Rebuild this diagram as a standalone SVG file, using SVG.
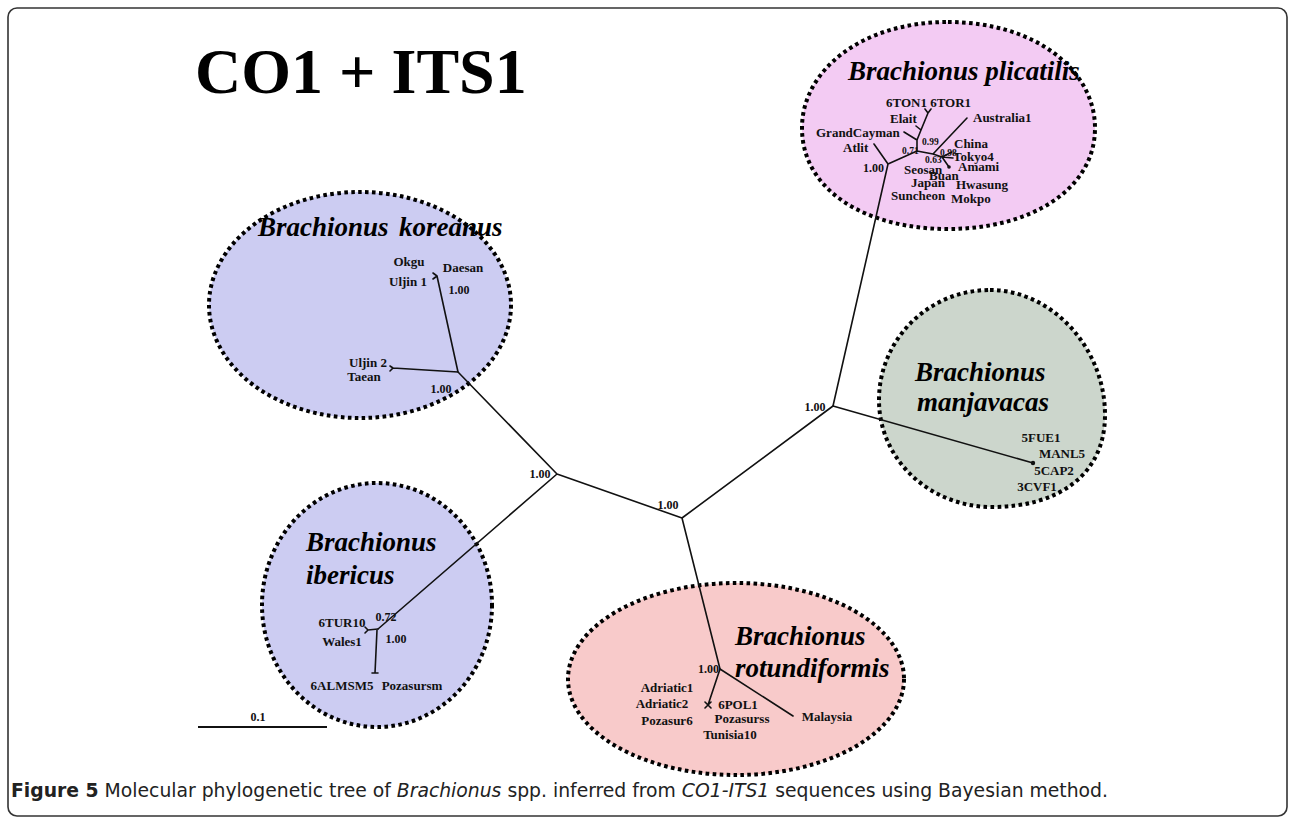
<svg xmlns="http://www.w3.org/2000/svg" width="1290" height="820" viewBox="0 0 1290 820">
<style>
.frame{fill:#fff;stroke:#333;stroke-width:1.6}
.cl{stroke:#000;stroke-width:4;stroke-dasharray:3.6 3.4}
.br{fill:none;stroke:#111;stroke-width:1.6;stroke-linecap:round;stroke-linejoin:round}
.lb{font-family:"Liberation Serif","Times New Roman",serif;font-weight:bold;font-size:13px;fill:#111}
.sm{font-family:"Liberation Serif","Times New Roman",serif;font-weight:bold;font-size:9.5px;fill:#111}
.pp{font-family:"Liberation Serif","Times New Roman",serif;font-weight:bold;font-size:12px;fill:#111}
.sp{font-family:"Liberation Serif","Times New Roman",serif;font-weight:bold;font-style:italic;font-size:27px;fill:#000}
.ttl{font-family:"Liberation Serif","Times New Roman",serif;font-weight:bold;font-size:64px;fill:#000}
.cap{font-family:"Liberation Sans Narrow","DejaVu Sans Condensed","Liberation Sans",sans-serif;font-size:19px;fill:#222}
</style>
<rect class="frame" x="8" y="8" width="1279" height="808" rx="9"/>
<text class="ttl" x="195" y="93">CO1 + ITS1</text>

<g id="plicatilis">
<path class="cl" fill="#f3cbf3" d="M948,22 C1035,22 1095,70 1095,128 C1095,190 1030,229 948,229 C865,229 802,190 802,128 C802,70 862,22 948,22 Z"/>
<text class="sp" x="848" y="80">Brachionus plicatilis</text>
<text class="lb" x="886" y="107">6TON1  6TOR1</text>
<text class="lb" x="890" y="123">Elait</text>
<text class="lb" x="973" y="122">Australia1</text>
<text class="lb" x="816" y="137">GrandCayman</text>
<text class="lb" x="843" y="152">Atlit</text>
<text class="lb" x="954" y="148">China</text>
<text class="lb" x="953" y="161">Tokyo4</text>
<text class="lb" x="958" y="171">Amami</text>
<text class="lb" x="904" y="174">Seosan</text>
<text class="lb" x="929" y="180">Buan</text>
<text class="lb" x="911" y="187">Japan</text>
<text class="lb" x="891" y="200">Suncheon</text>
<text class="lb" x="956" y="189">Hwasung</text>
<text class="lb" x="951" y="203">Mokpo</text>
<text class="sm" x="922" y="145">0.99</text>
<text class="sm" x="902" y="154">0.71</text>
<text class="sm" x="925" y="163">0.63</text>
<text class="sm" x="940" y="156">0.98</text>
<text class="pp" x="863" y="172">1.00</text>
</g>

<g id="koreanus">
<ellipse class="cl" cx="360" cy="305" rx="151" ry="113" fill="#ccccf2"/>
<text class="sp" x="258" y="236">Brachionus<tspan x="399">koreanus</tspan></text>
<text class="lb" x="409" y="266" text-anchor="middle">Okgu</text>
<text class="lb" x="463" y="272" text-anchor="middle">Daesan</text>
<text class="lb" x="408" y="286" text-anchor="middle">Uljin 1</text>
<text class="pp" x="459" y="294" text-anchor="middle">1.00</text>
<text class="lb" x="368" y="367" text-anchor="middle">Uljin 2</text>
<text class="lb" x="364" y="381" text-anchor="middle">Taean</text>
<text class="pp" x="441" y="393" text-anchor="middle">1.00</text>
</g>

<g id="ibericus">
<ellipse class="cl" cx="377" cy="605" rx="115" ry="122" fill="#ccccf2"/>
<text class="sp" x="306" y="551">Brachionus</text>
<text class="sp" x="306" y="584">ibericus</text>
<text class="lb" x="342" y="627" text-anchor="middle">6TUR10</text>
<text class="pp" x="386" y="621" text-anchor="middle">0.72</text>
<text class="lb" x="342" y="646" text-anchor="middle">Wales1</text>
<text class="pp" x="396" y="643" text-anchor="middle">1.00</text>
<text class="lb" x="342" y="690" text-anchor="middle">6ALMSM5</text>
<text class="lb" x="412" y="690" text-anchor="middle">Pozasursm</text>
</g>

<g id="rotundiformis">
<ellipse class="cl" cx="736" cy="679" rx="168" ry="96" fill="#f8caca"/>
<text class="sp" x="735" y="645">Brachionus</text>
<text class="sp" x="735" y="677">rotundiformis</text>
<text class="pp" x="719" y="673" text-anchor="end">1.00</text>
<text class="lb" x="667" y="692" text-anchor="middle">Adriatic1</text>
<text class="lb" x="662" y="708" text-anchor="middle">Adriatic2</text>
<text class="lb" x="667" y="725" text-anchor="middle">Pozasur6</text>
<text class="lb" x="738" y="709" text-anchor="middle">6POL1</text>
<text class="lb" x="742" y="723" text-anchor="middle">Pozasurss</text>
<text class="lb" x="730" y="739" text-anchor="middle">Tunisia10</text>
<text class="lb" x="827" y="721" text-anchor="middle">Malaysia</text>
</g>

<g id="manjavacas">
<path class="cl" fill="#ccd6cc" d="M990,290 C1052,290 1105,348 1105,415 C1105,475 1058,507 992,507 C930,507 879,460 879,400 C879,340 928,290 990,290 Z"/>
<text class="sp" x="915" y="381">Brachionus</text>
<text class="sp" x="917" y="411">manjavacas</text>
<text class="lb" x="1041" y="442" text-anchor="middle">5FUE1</text>
<text class="lb" x="1062" y="458" text-anchor="middle">MANL5</text>
<text class="lb" x="1054" y="475" text-anchor="middle">5CAP2</text>
<text class="lb" x="1037" y="491" text-anchor="middle">3CVF1</text>
</g>

<g id="backbone-labels">
<text class="pp" x="540" y="478" text-anchor="middle">1.00</text>
<text class="pp" x="668" y="509" text-anchor="middle">1.00</text>
<text class="pp" x="815" y="411" text-anchor="middle">1.00</text>
</g>

<g id="connectors">
<path class="br" d="M557,474 L682,518 L833,406 L1033,463 M557,474 L458,372 M557,474 L378,629 M682,518 L720,669"/>
<path class="br" stroke="#2a0a2a" d="M833,406 L888,164 L874,144 M888,164 L917,151 L917,140 L921,130 L928,113 L925,109 M928,113 L931,109 M917,140 L904,132 M921,130 L916,126 M917,151 L933,154 L967,118 M933,154 L942,157 L952,152 M942,157 L953,158 M942,157 L949,167"/>
<path class="br" d="M458,372 L437,276 L433,273 M437,276 L433,279 M458,372 L393,368 L390,366 M393,368 L390,371"/>
<path class="br" d="M378,629 L368,630 L365,627 M368,630 L365,633 M377,630 L375,673 M372,673 L378,673"/>
<path class="br" stroke="#2a0a0a" d="M720,669 L708,705 M705,702 L711,708 M711,702 L705,708 M720,669 L793,716"/>
<circle cx="1033" cy="463" r="2.2" fill="#111"/>
<circle cx="949" cy="167" r="1.8" fill="#111"/>
<path d="M198,727 L327,727" stroke="#111" stroke-width="2.2"/>
</g>
<text class="pp" x="258" y="721" text-anchor="middle">0.1</text>

<text class="cap" x="11" y="797" textLength="1097" lengthAdjust="spacingAndGlyphs"><tspan font-weight="bold">Figure 5</tspan> Molecular phylogenetic tree of <tspan font-style="italic">Brachionus</tspan> spp. inferred from <tspan font-style="italic">CO1-ITS1</tspan> sequences using Bayesian method.</text>
</svg>
